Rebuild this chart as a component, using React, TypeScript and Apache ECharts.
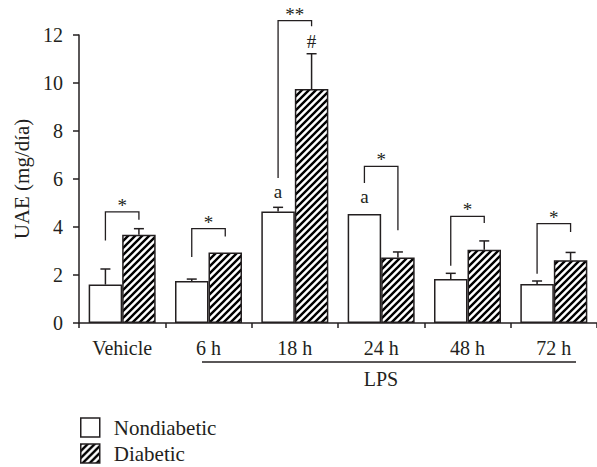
import React, { useEffect, useRef } from "react";
import * as echarts from "echarts";

const categories = ["Vehicle", "6 h", "18 h", "24 h", "48 h", "72 h"];
const nondiabetic = [1.6, 1.75, 4.65, 4.54, 1.83, 1.63];
const nondiabeticErrTop = [2.25, 1.83, 4.82, 4.56, 2.07, 1.75];
const diabetic = [3.68, 2.94, 9.75, 2.73, 3.05, 2.61];
const diabeticErrTop = [3.93, 2.94, 11.22, 2.96, 3.42, 2.94];
const bracketTop = [4.63, 3.93, 12.6, 6.53, 4.44, 4.14];
const bracketLeftEnd = [3.44, 2.75, 6.04, 5.83, 2.39, 2.05];
const bracketRightEnd = [4.3, 3.6, 12.36, 3.86, 4.17, 3.79];
const bracketMarks = ["*", "*", "**", "*", "*", "*"];
// [category index, group (0 nondiabetic, 1 diabetic), value, text]
const notes: [number, number, number, string][] = [
  [2, 0, 5.47, "a"],
  [3, 0, 5.26, "a"],
  [2, 1, 11.73, "#"],
];
const yTicks = { min: 0, max: 12, interval: 2 };

const INK = "#231f20";
const FONT = "Liberation Serif";
const BAR_W = 33.5;
const HALF = BAR_W / 2;

function makeHatch(): HTMLCanvasElement {
  const s = 7;
  const c = document.createElement("canvas");
  c.width = s;
  c.height = s;
  const ctx = c.getContext("2d")!;
  ctx.fillStyle = "#ffffff";
  ctx.fillRect(0, 0, s, s);
  ctx.strokeStyle = "#000000";
  ctx.lineWidth = 2.4;
  ctx.beginPath();
  for (let k = -1; k <= 1; k++) {
    ctx.moveTo(k * s - 1, s + 1);
    ctx.lineTo(k * s + s + 1, -1);
  }
  ctx.stroke();
  return c;
}

export default function App() {
  const ref = useRef<HTMLDivElement>(null);
  useEffect(() => {
    if (!ref.current) return;
    const chart = echarts.init(ref.current, null, { renderer: "svg" });
    const hatch = { image: makeHatch(), repeat: "repeat" } as any;

    const errSeries = (vals: number[], tops: number[], off: number) => ({
      type: "custom",
      silent: true,
      clip: false,
      z: 5,
      data: vals.map((v, i) => [i, v, tops[i]]),
      renderItem: (params: any, api: any) => {
        const cat = api.value(0);
        const b = api.coord([cat, api.value(1)]);
        const t = api.coord([cat, api.value(2)]);
        const x = b[0] + off;
        if (t[1] >= b[1] - 0.5) return null;
        const st = { stroke: INK, lineWidth: 1.5 };
        return {
          type: "group",
          children: [
            { type: "line", shape: { x1: x, y1: b[1], x2: x, y2: t[1] }, style: st },
            { type: "line", shape: { x1: x - 5, y1: t[1], x2: x + 5, y2: t[1] }, style: st },
          ],
        };
      },
    });

    const option: any = {
      animation: false,
      backgroundColor: "#ffffff",
      textStyle: { fontFamily: FONT, color: INK },
      grid: { left: 79, top: 35, width: 525, height: 288, containLabel: false },
      legend: {
        orient: "vertical",
        left: 80,
        top: 417,
        height: 120,
        padding: 0,
        icon: "rect",
        itemWidth: 19,
        itemHeight: 19,
        itemGap: 5,
        selectedMode: false,
        itemStyle: { borderColor: INK, borderWidth: 1.5 },
        textStyle: { fontFamily: FONT, fontSize: 21, lineHeight: 19, color: INK, padding: [0, 0, 0, 9] },
        data: ["Nondiabetic", "Diabetic"],
      },
      xAxis: {
        type: "category",
        data: categories,
        axisLine: { lineStyle: { color: INK, width: 1.5 } },
        axisTick: { show: true, length: 5, lineStyle: { color: INK, width: 1.5 } },
        axisLabel: { fontFamily: FONT, fontSize: 20, color: INK, margin: 15 },
        splitLine: { show: false },
      },
      yAxis: {
        type: "value",
        min: yTicks.min,
        max: yTicks.max,
        interval: yTicks.interval,
        name: "UAE (mg/día)",
        nameLocation: "middle",
        nameRotate: 90,
        nameGap: 44,
        nameTextStyle: { fontFamily: FONT, fontSize: 21, color: INK },
        axisLine: { show: true, lineStyle: { color: INK, width: 1.5 } },
        axisTick: { show: true, length: 6, lineStyle: { color: INK, width: 1.5 } },
        axisLabel: { fontFamily: FONT, fontSize: 20, color: INK, margin: 16 },
        splitLine: { show: false },
      },
      series: [
        {
          name: "Nondiabetic",
          type: "bar",
          data: nondiabetic,
          barWidth: BAR_W,
          barGap: "0%",
          itemStyle: { color: "#ffffff", borderColor: INK, borderWidth: 1.5 },
        },
        {
          name: "Diabetic",
          type: "bar",
          data: diabetic,
          barWidth: BAR_W,
          barGap: "0%",
          itemStyle: { color: hatch, borderColor: INK, borderWidth: 1.5 },
        },
        errSeries(nondiabetic, nondiabeticErrTop, -HALF),
        errSeries(diabetic, diabeticErrTop, HALF),
        {
          type: "custom",
          silent: true,
          clip: false,
          z: 6,
          data: bracketTop.map((t, i) => [i, t, bracketLeftEnd[i], bracketRightEnd[i]]),
          renderItem: (params: any, api: any) => {
            const cat = api.value(0);
            const top = api.coord([cat, api.value(1)]);
            const l = api.coord([cat, api.value(2)]);
            const r = api.coord([cat, api.value(3)]);
            const xl = top[0] - HALF;
            const xr = top[0] + HALF;
            return {
              type: "group",
              children: [
                {
                  type: "polyline",
                  shape: { points: [[xl, l[1]], [xl, top[1]], [xr, top[1]], [xr, r[1]]] },
                  style: { stroke: INK, lineWidth: 1.3, fill: null },
                },
                {
                  type: "text",
                  x: top[0],
                  y: top[1] + 3,
                  style: {
                    text: bracketMarks[params.dataIndex],
                    fontFamily: FONT,
                    fontSize: 19,
                    fill: INK,
                    textAlign: "center",
                    textVerticalAlign: "bottom",
                  },
                },
              ],
            };
          },
        },
        {
          type: "custom",
          silent: true,
          clip: false,
          z: 6,
          data: notes.map((n) => [n[0], n[2], n[1]]),
          renderItem: (params: any, api: any) => {
            const cat = api.value(0);
            const p = api.coord([cat, api.value(1)]);
            const off = api.value(2) === 0 ? -HALF : HALF;
            return {
              type: "text",
              x: p[0] + off,
              y: p[1],
              style: {
                text: notes[params.dataIndex][3],
                fontFamily: FONT,
                fontSize: 19,
                fill: INK,
                textAlign: "center",
                textVerticalAlign: "middle",
              },
            };
          },
        },
      ],
      graphic: [
        {
          type: "line",
          shape: { x1: 202, y1: 362, x2: 576, y2: 362 },
          style: { stroke: INK, lineWidth: 1.5 },
        },
        {
          type: "text",
          x: 381,
          y: 379,
          style: {
            text: "LPS",
            fontFamily: FONT,
            fontSize: 20,
            fill: INK,
            textAlign: "center",
            textVerticalAlign: "middle",
          },
        },
      ],
    };
    chart.setOption(option);
    return () => chart.dispose();
  }, []);
  return <div ref={ref} style={{ width: 597, height: 467, position: "absolute", left: 0, top: 0 }} />;
}
